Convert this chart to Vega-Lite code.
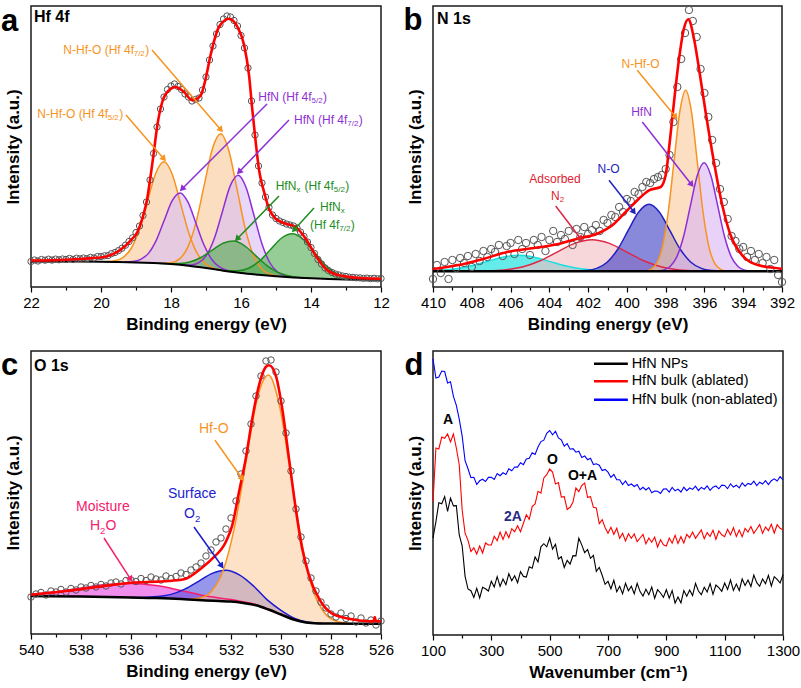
{
"$schema":"https://vega.github.io/schema/vega-lite/v6.json",
"background":"white",
"padding":{"left":0,"top":3,"right":4,"bottom":4},
"columns":2,
"spacing":{"row":64,"column":52},
"bounds":"flush",
"resolve":{"scale":{"color":"independent","fill":"independent","stroke":"independent"}},
"datasets":{
"a_comp":[
{"e":16.555,"lo":16.6,"i":16.8,"c":"O1"},{"e":16.79,"lo":17.8,"i":18.9,"c":"O1"},{"e":17.025,"lo":19.1,"i":23.6,"c":"O1"},{"e":17.26,"lo":20.25,"i":34.05,"c":"O1"},{"e":17.495,"lo":21.3,"i":54.4,"c":"O1"},{"e":17.73,"lo":22.05,"i":83.9,"c":"O1"},{"e":17.965,"lo":22.8,"i":112.8,"c":"O1"},{"e":18.2,"lo":23.3,"i":125.3,"c":"O1"},{"e":18.435,"lo":23.8,"i":113.8,"c":"O1"},{"e":18.67,"lo":24.2,"i":86.1,"c":"O1"},{"e":18.905,"lo":24.5,"i":57.6,"c":"O1"},{"e":19.14,"lo":24.7,"i":38.5,"c":"O1"},{"e":19.375,"lo":24.9,"i":29.4,"c":"O1"},{"e":19.61,"lo":25.05,"i":26.15,"c":"O1"},{"e":19.845,"lo":25.2,"i":25.4,"c":"O1"},
{"e":14.935,"lo":10.65,"i":10.95,"c":"O2"},{"e":15.17,"lo":11.3,"i":12.8,"c":"O2"},{"e":15.405,"lo":12.0,"i":18.0,"c":"O2"},{"e":15.64,"lo":12.75,"i":31.25,"c":"O2"},{"e":15.875,"lo":13.55,"i":57.85,"c":"O2"},{"e":16.11,"lo":14.5,"i":97.3,"c":"O2"},{"e":16.345,"lo":15.55,"i":136.05,"c":"O2"},{"e":16.58,"lo":16.7,"i":153.2,"c":"O2"},{"e":16.815,"lo":17.95,"i":138.45,"c":"O2"},{"e":17.05,"lo":19.25,"i":102.05,"c":"O2"},{"e":17.285,"lo":20.35,"i":64.65,"c":"O2"},{"e":17.52,"lo":21.35,"i":39.85,"c":"O2"},{"e":17.755,"lo":22.1,"i":28.1,"c":"O2"},{"e":17.99,"lo":22.85,"i":24.35,"c":"O2"},{"e":18.225,"lo":23.35,"i":23.65,"c":"O2"},
{"e":16.165,"lo":14.7,"i":14.9,"c":"P1"},{"e":16.39,"lo":15.75,"i":16.55,"c":"P1"},{"e":16.615,"lo":16.9,"i":20.1,"c":"P1"},{"e":16.84,"lo":18.1,"i":27.8,"c":"P1"},{"e":17.065,"lo":19.3,"i":42.7,"c":"P1"},{"e":17.29,"lo":20.4,"i":64.1,"c":"P1"},{"e":17.515,"lo":21.35,"i":84.85,"c":"P1"},{"e":17.74,"lo":22.1,"i":94.1,"c":"P1"},{"e":17.965,"lo":22.8,"i":86.3,"c":"P1"},{"e":18.19,"lo":23.3,"i":67.0,"c":"P1"},{"e":18.415,"lo":23.75,"i":47.15,"c":"P1"},{"e":18.64,"lo":24.15,"i":33.85,"c":"P1"},{"e":18.865,"lo":24.45,"i":27.65,"c":"P1"},{"e":19.09,"lo":24.7,"i":25.5,"c":"P1"},{"e":19.315,"lo":24.85,"i":25.05,"c":"P1"},
{"e":14.505,"lo":9.6,"i":9.8,"c":"P2"},{"e":14.73,"lo":10.15,"i":11.25,"c":"P2"},{"e":14.955,"lo":10.7,"i":15.0,"c":"P2"},{"e":15.18,"lo":11.3,"i":24.5,"c":"P2"},{"e":15.405,"lo":12.0,"i":43.6,"c":"P2"},{"e":15.63,"lo":12.7,"i":71.8,"c":"P2"},{"e":15.855,"lo":13.5,"i":99.5,"c":"P2"},{"e":16.08,"lo":14.35,"i":111.75,"c":"P2"},{"e":16.305,"lo":15.35,"i":101.35,"c":"P2"},{"e":16.53,"lo":16.45,"i":75.55,"c":"P2"},{"e":16.755,"lo":17.65,"i":49.25,"c":"P2"},{"e":16.98,"lo":18.9,"i":32.1,"c":"P2"},{"e":17.205,"lo":20.0,"i":24.3,"c":"P2"},{"e":17.43,"lo":21.0,"i":22.1,"c":"P2"},{"e":17.655,"lo":21.8,"i":22.0,"c":"P2"},
{"e":14.03,"lo":8.75,"i":8.85,"c":"G1"},{"e":14.34,"lo":9.3,"i":9.6,"c":"G1"},{"e":14.65,"lo":9.95,"i":11.35,"c":"G1"},{"e":14.96,"lo":10.7,"i":14.9,"c":"G1"},{"e":15.27,"lo":11.55,"i":21.65,"c":"G1"},{"e":15.58,"lo":12.55,"i":31.35,"c":"G1"},{"e":15.89,"lo":13.6,"i":41.0,"c":"G1"},{"e":16.2,"lo":14.9,"i":45.9,"c":"G1"},{"e":16.51,"lo":16.35,"i":43.75,"c":"G1"},{"e":16.82,"lo":18.0,"i":36.8,"c":"G1"},{"e":17.13,"lo":19.65,"i":29.75,"c":"G1"},{"e":17.44,"lo":21.05,"i":25.25,"c":"G1"},{"e":17.75,"lo":22.1,"i":23.5,"c":"G1"},{"e":18.06,"lo":23.05,"i":23.35,"c":"G1"},{"e":18.37,"lo":23.65,"i":23.75,"c":"G1"},
{"e":12.36,"lo":7.35,"i":7.45,"c":"G2"},{"e":12.67,"lo":7.45,"i":7.95,"c":"G2"},{"e":12.98,"lo":7.6,"i":9.5,"c":"G2"},{"e":13.29,"lo":7.8,"i":13.7,"c":"G2"},{"e":13.6,"lo":8.1,"i":22.3,"c":"G2"},{"e":13.91,"lo":8.55,"i":35.05,"c":"G2"},{"e":14.22,"lo":9.05,"i":47.65,"c":"G2"},{"e":14.53,"lo":9.65,"i":53.35,"c":"G2"},{"e":14.84,"lo":10.4,"i":49.0,"c":"G2"},{"e":15.15,"lo":11.2,"i":37.7,"c":"G2"},{"e":15.46,"lo":12.15,"i":26.35,"c":"G2"},{"e":15.77,"lo":13.15,"i":19.05,"c":"G2"},{"e":16.08,"lo":14.35,"i":16.25,"c":"G2"},{"e":16.39,"lo":15.75,"i":16.25,"c":"G2"},{"e":16.7,"lo":17.35,"i":17.45,"c":"G2"}
],
"a_bg":[{"e":22,"i":25.5},{"e":21,"i":25.5},{"e":20,"i":25.3},{"e":19.5,"i":25},{"e":19,"i":24.6},{"e":18.5,"i":23.9},{"e":18,"i":22.9},{"e":17.5,"i":21.3},{"e":17,"i":19},{"e":16.5,"i":16.3},{"e":16,"i":14},{"e":15.5,"i":12.3},{"e":15,"i":10.8},{"e":14.5,"i":9.6},{"e":14,"i":8.7},{"e":13.5,"i":8},{"e":13,"i":7.6},{"e":12.5,"i":7.4},{"e":12,"i":7.3}],
"a_env":[{"e":22,"i":26.5},{"e":21,"i":27.3},{"e":20.5,"i":28.3},{"e":19.91,"i":30},{"e":19.63,"i":33.3},{"e":19.34,"i":40},{"e":19.15,"i":46.7},{"e":18.96,"i":55},{"e":18.82,"i":68.3},{"e":18.68,"i":88.3},{"e":18.58,"i":111.7},{"e":18.49,"i":135},{"e":18.39,"i":161.7},{"e":18.25,"i":185},{"e":18.06,"i":196.7},{"e":17.87,"i":200},{"e":17.63,"i":195},{"e":17.39,"i":186.7},{"e":17.15,"i":191.7},{"e":17.01,"i":208.3},{"e":16.87,"i":231.7},{"e":16.63,"i":260},{"e":16.34,"i":268.3},{"e":16.1,"i":260},{"e":15.91,"i":241.7},{"e":15.77,"i":211.7},{"e":15.68,"i":178.3},{"e":15.58,"i":145},{"e":15.49,"i":118.3},{"e":15.34,"i":95},{"e":15.2,"i":78.3},{"e":15.01,"i":68.3},{"e":14.72,"i":63.3},{"e":14.44,"i":60},{"e":14.15,"i":48.3},{"e":13.87,"i":31.7},{"e":13.58,"i":18.3},{"e":13.2,"i":11.7},{"e":12.63,"i":9},{"e":12.06,"i":8.3},{"e":12,"i":8.3}],
"a_pts":[{"e":22.0,"i":25.5},{"e":21.9,"i":27},{"e":21.8,"i":26},{"e":21.7,"i":27.5},{"e":21.6,"i":26.8},{"e":21.5,"i":27.8},{"e":21.4,"i":26.9},{"e":21.3,"i":27.9},{"e":21.2,"i":27.2},{"e":21.1,"i":28},{"e":21.0,"i":27.5},{"e":20.9,"i":28.6},{"e":20.8,"i":27.6},{"e":20.7,"i":28.8},{"e":20.6,"i":28.2},{"e":20.5,"i":29},{"e":20.4,"i":28.3},{"e":20.3,"i":29.6},{"e":20.2,"i":29},{"e":20.1,"i":30.5},{"e":20.0,"i":30.4},{"e":19.9,"i":31.2},{"e":19.8,"i":31.4},{"e":19.7,"i":33.4},{"e":19.6,"i":34.5},{"e":19.5,"i":36.4},{"e":19.4,"i":38.8},{"e":19.3,"i":41.8},{"e":19.2,"i":45.5},{"e":19.1,"i":49.2},{"e":19.0,"i":54.5},{"e":18.9,"i":61},{"e":18.8,"i":71.5},{"e":18.7,"i":85},{"e":18.6,"i":107},{"e":18.5,"i":133.5},{"e":18.4,"i":160},{"e":18.3,"i":178},{"e":18.2,"i":190},{"e":18.1,"i":197.5},{"e":18.0,"i":201},{"e":17.9,"i":203},{"e":17.8,"i":200.5},{"e":17.7,"i":197.5},{"e":17.6,"i":193},{"e":17.5,"i":190},{"e":17.4,"i":186},{"e":17.3,"i":187.5},{"e":17.2,"i":189},{"e":17.1,"i":197},{"e":17.0,"i":210},{"e":16.9,"i":227},{"e":16.8,"i":241},{"e":16.7,"i":253},{"e":16.6,"i":262.5},{"e":16.5,"i":268},{"e":16.4,"i":271},{"e":16.3,"i":270},{"e":16.2,"i":266.5},{"e":16.1,"i":261},{"e":16.0,"i":251.5},{"e":15.9,"i":239},{"e":15.8,"i":219},{"e":15.7,"i":186},{"e":15.6,"i":152},{"e":15.5,"i":121},{"e":15.4,"i":104},{"e":15.3,"i":90},{"e":15.2,"i":79.5},{"e":15.1,"i":72},{"e":15.0,"i":68.5},{"e":14.9,"i":66},{"e":14.8,"i":64.5},{"e":14.7,"i":63},{"e":14.6,"i":62},{"e":14.5,"i":61},{"e":14.4,"i":59},{"e":14.3,"i":55},{"e":14.2,"i":50.5},{"e":14.1,"i":45},{"e":14.0,"i":39.5},{"e":13.9,"i":33.5},{"e":13.8,"i":27.5},{"e":13.7,"i":23},{"e":13.6,"i":19},{"e":13.5,"i":16.5},{"e":13.4,"i":14.5},{"e":13.3,"i":13},{"e":13.2,"i":12},{"e":13.1,"i":11},{"e":13.0,"i":10.5},{"e":12.9,"i":9.8},{"e":12.8,"i":9.6},{"e":12.7,"i":9.2},{"e":12.6,"i":9.1},{"e":12.5,"i":8.6},{"e":12.4,"i":8.9},{"e":12.3,"i":8.3},{"e":12.2,"i":8.7},{"e":12.1,"i":8.2},{"e":12.0,"i":8.5}],
"a_arr":[{"e":16.571,"i":157,"e2":18.543,"i2":237,"c":"O2","ang":139},{"e":18.2,"i":128,"e2":19.286,"i2":172,"c":"O1","ang":139},{"e":17.686,"i":98,"e2":15.257,"i2":183,"c":"P1","ang":225},{"e":16.057,"i":115,"e2":14.629,"i2":167,"c":"P2","ang":224},{"e":16.114,"i":48,"e2":14.914,"i2":91,"c":"G1","ang":224},{"e":14.486,"i":57,"e2":13.914,"i2":79,"c":"G2","ang":222}],
"a_txt":[{"e":21.077,"i":236.7,"t":"N-Hf-O (Hf 4f","c":"O2"},{"e":18.737,"i":236.7,"t":")","c":"O2"},{"e":21.82,"i":173.3,"t":"N-Hf-O (Hf 4f","c":"O1"},{"e":19.48,"i":173.3,"t":")","c":"O1"},{"e":15.506,"i":190,"t":"HfN (Hf 4f","c":"P1"},{"e":13.654,"i":190,"t":")","c":"P1"},{"e":14.486,"i":166.7,"t":"HfN (Hf 4f","c":"P2"},{"e":12.634,"i":166.7,"t":")","c":"P2"},{"e":15.009,"i":100.7,"t":"HfN","c":"G1"},{"e":14.186,"i":100.7,"t":"(Hf 4f","c":"G1"},{"e":13.02,"i":100.7,"t":")","c":"G1"},{"e":13.743,"i":80,"t":"HfN","c":"G2"},{"e":14.029,"i":61.7,"t":"(Hf 4f","c":"G2"},{"e":12.863,"i":61.7,"t":")","c":"G2"}],
"a_sub":[{"e":19.066,"i":236.7,"t":"7/2","c":"O2"},{"e":19.809,"i":173.3,"t":"5/2","c":"O1"},{"e":13.983,"i":190,"t":"5/2","c":"P1"},{"e":12.963,"i":166.7,"t":"7/2","c":"P2"},{"e":14.417,"i":100.7,"t":"x","c":"G1"},{"e":13.349,"i":100.7,"t":"5/2","c":"G1"},{"e":13.151,"i":80,"t":"x","c":"G2"},{"e":13.191,"i":61.7,"t":"7/2","c":"G2"}],
"b_comp":[
{"e":399.825,"i":15.74,"c":"cy"},{"e":400.65,"i":15.9,"c":"cy"},{"e":401.475,"i":16.4,"c":"cy"},{"e":402.3,"i":17.9,"c":"cy"},{"e":403.125,"i":20.9,"c":"cy"},{"e":403.95,"i":25.4,"c":"cy"},{"e":404.775,"i":29.8,"c":"cy"},{"e":405.6,"i":31.7,"c":"cy"},{"e":406.425,"i":29.8,"c":"cy"},{"e":407.25,"i":25.4,"c":"cy"},{"e":408.075,"i":20.9,"c":"cy"},{"e":408.9,"i":17.9,"c":"cy"},{"e":409.725,"i":16.4,"c":"cy"},{"e":410,"i":16.15,"c":"cy"},
{"e":395.5,"i":15.77,"c":"pk"},{"e":396.4,"i":16.05,"c":"pk"},{"e":397.3,"i":17.1,"c":"pk"},{"e":398.2,"i":20.0,"c":"pk"},{"e":399.1,"i":26.0,"c":"pk"},{"e":400.0,"i":34.9,"c":"pk"},{"e":400.9,"i":43.6,"c":"pk"},{"e":401.8,"i":47.3,"c":"pk"},{"e":402.7,"i":43.6,"c":"pk"},{"e":403.6,"i":34.9,"c":"pk"},{"e":404.5,"i":26.0,"c":"pk"},{"e":405.4,"i":20.0,"c":"pk"},{"e":406.3,"i":17.1,"c":"pk"},{"e":407.2,"i":16.05,"c":"pk"},{"e":408.1,"i":15.77,"c":"pk"},
{"e":395.08,"i":15.85,"c":"no"},{"e":395.62,"i":16.44,"c":"no"},{"e":396.16,"i":18.6,"c":"no"},{"e":396.7,"i":24.8,"c":"no"},{"e":397.24,"i":37.5,"c":"no"},{"e":397.78,"i":56.3,"c":"no"},{"e":398.32,"i":74.8,"c":"no"},{"e":398.86,"i":82.7,"c":"no"},{"e":399.4,"i":74.8,"c":"no"},{"e":399.94,"i":56.3,"c":"no"},{"e":400.48,"i":37.5,"c":"no"},{"e":401.02,"i":24.8,"c":"no"},{"e":401.56,"i":18.6,"c":"no"},{"e":402.1,"i":16.44,"c":"no"},{"e":402.64,"i":15.85,"c":"no"},
{"e":394.87,"i":16.1,"c":"or"},{"e":395.17,"i":17.7,"c":"or"},{"e":395.47,"i":23.6,"c":"or"},{"e":395.77,"i":40.2,"c":"or"},{"e":396.07,"i":74.5,"c":"or"},{"e":396.37,"i":125.5,"c":"or"},{"e":396.67,"i":175.4,"c":"or"},{"e":396.97,"i":196.7,"c":"or"},{"e":397.27,"i":175.4,"c":"or"},{"e":397.57,"i":125.5,"c":"or"},{"e":397.87,"i":74.5,"c":"or"},{"e":398.17,"i":40.2,"c":"or"},{"e":398.47,"i":23.6,"c":"or"},{"e":398.77,"i":17.7,"c":"or"},{"e":399.07,"i":16.1,"c":"or"},
{"e":393.57,"i":15.94,"c":"pu"},{"e":393.92,"i":16.9,"c":"pu"},{"e":394.27,"i":20.5,"c":"pu"},{"e":394.62,"i":30.4,"c":"pu"},{"e":394.97,"i":51.0,"c":"pu"},{"e":395.32,"i":81.6,"c":"pu"},{"e":395.67,"i":111.5,"c":"pu"},{"e":396.02,"i":124.3,"c":"pu"},{"e":396.37,"i":111.5,"c":"pu"},{"e":396.72,"i":81.6,"c":"pu"},{"e":397.07,"i":51.0,"c":"pu"},{"e":397.42,"i":30.4,"c":"pu"},{"e":397.77,"i":20.5,"c":"pu"},{"e":398.12,"i":16.9,"c":"pu"},{"e":398.47,"i":15.94,"c":"pu"}
],
"b_bg":[{"e":410,"i":15.7},{"e":392,"i":15.7}],
"b_env":[{"e":410,"i":18},{"e":408.75,"i":21.7},{"e":407.37,"i":28.3},{"e":406.17,"i":35},{"e":404.79,"i":39},{"e":403.59,"i":42.7},{"e":402.56,"i":48.3},{"e":401.53,"i":53.3},{"e":400.75,"i":61.7},{"e":400.06,"i":75},{"e":399.38,"i":88.3},{"e":398.86,"i":96.7},{"e":398.26,"i":100},{"e":398.0,"i":111.7},{"e":397.79,"i":145},{"e":397.57,"i":185},{"e":397.31,"i":228.3},{"e":397.06,"i":258.3},{"e":396.83,"i":267.7},{"e":396.54,"i":248.3},{"e":396.28,"i":218.3},{"e":395.94,"i":175},{"e":395.51,"i":125},{"e":395.08,"i":81.7},{"e":394.65,"i":51.7},{"e":394.05,"i":31.7},{"e":393.19,"i":21.7},{"e":392.07,"i":18.3},{"e":392,"i":18}],
"b_pts":[{"e":410.0,"i":8},{"e":409.8,"i":22},{"e":409.6,"i":14},{"e":409.4,"i":25},{"e":409.2,"i":8},{"e":409.0,"i":27},{"e":408.8,"i":19},{"e":408.6,"i":29},{"e":408.4,"i":24},{"e":408.2,"i":31},{"e":408.0,"i":20},{"e":407.8,"i":33},{"e":407.6,"i":26},{"e":407.4,"i":36},{"e":407.2,"i":30},{"e":407.0,"i":38},{"e":406.8,"i":35},{"e":406.6,"i":42},{"e":406.4,"i":31},{"e":406.2,"i":41},{"e":406.0,"i":44},{"e":405.8,"i":33},{"e":405.6,"i":47},{"e":405.4,"i":38},{"e":405.2,"i":44},{"e":405.0,"i":32},{"e":404.8,"i":47},{"e":404.6,"i":42},{"e":404.4,"i":50},{"e":404.2,"i":36},{"e":404.0,"i":47},{"e":403.8,"i":56},{"e":403.6,"i":45},{"e":403.4,"i":52},{"e":403.2,"i":48},{"e":403.0,"i":56},{"e":402.8,"i":42},{"e":402.6,"i":58},{"e":402.4,"i":50},{"e":402.2,"i":60},{"e":402.0,"i":53},{"e":401.8,"i":57},{"e":401.6,"i":62},{"e":401.4,"i":56},{"e":401.2,"i":67},{"e":401.0,"i":64},{"e":400.8,"i":72},{"e":400.6,"i":70},{"e":400.4,"i":80},{"e":400.2,"i":75},{"e":400.0,"i":88},{"e":399.8,"i":86},{"e":399.6,"i":95},{"e":399.4,"i":93},{"e":399.2,"i":100},{"e":399.0,"i":105},{"e":398.8,"i":104},{"e":398.6,"i":108},{"e":398.4,"i":110},{"e":398.2,"i":112},{"e":398.0,"i":118},{"e":397.8,"i":132},{"e":397.6,"i":165},{"e":397.4,"i":200},{"e":397.2,"i":228},{"e":397.0,"i":254},{"e":396.8,"i":277},{"e":396.6,"i":266},{"e":396.4,"i":250},{"e":396.2,"i":218},{"e":396.0,"i":194},{"e":395.8,"i":170},{"e":395.6,"i":147},{"e":395.4,"i":124},{"e":395.2,"i":98},{"e":395.0,"i":85},{"e":394.8,"i":68},{"e":394.6,"i":51},{"e":394.4,"i":46},{"e":394.2,"i":38},{"e":394.0,"i":40},{"e":393.8,"i":30},{"e":393.6,"i":36},{"e":393.4,"i":27},{"e":393.2,"i":33},{"e":393.0,"i":24},{"e":392.8,"i":30},{"e":392.6,"i":18},{"e":392.4,"i":27},{"e":392.2,"i":12},{"e":392.0,"i":5}],
"b_arr":[{"e":397.483,"i":170,"e2":399.464,"i2":216.7,"c":"or","ang":141},{"e":396.658,"i":102.3,"e2":399.206,"i2":165,"c":"pu","ang":142},{"e":399.634,"i":75,"e2":400.923,"i2":106.7,"c":"no","ang":142},{"e":402.383,"i":48.3,"e2":403.672,"i2":81,"c":"pk","ang":143}],
"b_txt":[{"e":400.278,"i":223,"t":"N-Hf-O","c":"or"},{"e":399.778,"i":175,"t":"HfN","c":"pu"},{"e":401.516,"i":118,"t":"N-O","c":"no"},{"e":405.034,"i":108,"t":"Adsorbed","c":"pk"},{"e":403.914,"i":91,"t":"N","c":"pk"}],
"b_sub":[{"e":403.466,"i":91,"t":"2","c":"pk"}],
"c_comp":[
{"e":529,"lo":11.5,"i":11.53,"c":"h2o"},{"e":530,"lo":19.5,"i":19.66,"c":"h2o"},{"e":531,"lo":28.7,"i":29.3,"c":"h2o"},{"e":532,"lo":32.5,"i":34.4,"c":"h2o"},{"e":533,"lo":33.5,"i":38.0,"c":"h2o"},{"e":534,"lo":35,"i":43.5,"c":"h2o"},{"e":535,"lo":36,"i":48.4,"c":"h2o"},{"e":536,"lo":36.5,"i":50.5,"c":"h2o"},{"e":537,"lo":37,"i":49.4,"c":"h2o"},{"e":538,"lo":37.5,"i":46.0,"c":"h2o"},{"e":539,"lo":37.75,"i":42.25,"c":"h2o"},{"e":540,"lo":38,"i":39.9,"c":"h2o"},
{"e":528.35,"lo":10.55,"i":10.62,"c":"so2"},{"e":528.9,"lo":11.3,"i":11.64,"c":"so2"},{"e":529.45,"lo":14.2,"i":15.6,"c":"so2"},{"e":530.0,"lo":19.5,"i":23.7,"c":"so2"},{"e":530.55,"lo":24.0,"i":34.1,"c":"so2"},{"e":531.1,"lo":29.2,"i":48.0,"c":"so2"},{"e":531.65,"lo":31.5,"i":58.9,"c":"so2"},{"e":532.2,"lo":32.7,"i":63.7,"c":"so2"},{"e":532.75,"lo":33.25,"i":60.65,"c":"so2"},{"e":533.3,"lo":33.9,"i":52.7,"c":"so2"},{"e":533.85,"lo":34.8,"i":44.9,"c":"so2"},{"e":534.4,"lo":35.4,"i":39.6,"c":"so2"},{"e":534.95,"lo":36.0,"i":37.4,"c":"so2"},{"e":535.5,"lo":36.25,"i":36.6,"c":"so2"},{"e":536.05,"lo":36.5,"i":36.6,"c":"so2"},
{"e":527.35,"lo":10.35,"i":10.85,"c":"hfo"},{"e":527.8,"lo":10.4,"i":13.0,"c":"hfo"},{"e":528.25,"lo":10.5,"i":20.8,"c":"hfo"},{"e":528.7,"lo":10.8,"i":42.5,"c":"hfo"},{"e":529.15,"lo":12.4,"i":88.5,"c":"hfo"},{"e":529.6,"lo":15.5,"i":157.7,"c":"hfo"},{"e":530.05,"lo":20,"i":226.9,"c":"hfo"},{"e":530.5,"lo":24.5,"i":258.9,"c":"hfo"},{"e":530.95,"lo":28.45,"i":235.35,"c":"hfo"},{"e":531.4,"lo":30.4,"i":172.6,"c":"hfo"},{"e":531.85,"lo":32.0,"i":108.1,"c":"hfo"},{"e":532.3,"lo":32.8,"i":64.5,"c":"hfo"},{"e":532.75,"lo":33.25,"i":43.55,"c":"hfo"},{"e":533.2,"lo":33.7,"i":36.3,"c":"hfo"},{"e":533.65,"lo":34.5,"i":35.0,"c":"hfo"}
],
"c_bg":[{"e":540,"i":38},{"e":538,"i":37.5},{"e":536,"i":36.5},{"e":535,"i":36},{"e":534,"i":35},{"e":533.5,"i":34.2},{"e":533,"i":33.5},{"e":532.5,"i":33},{"e":532,"i":32.5},{"e":531.5,"i":31},{"e":531,"i":28.7},{"e":530.5,"i":24.5},{"e":530,"i":19.5},{"e":529.5,"i":14.5},{"e":529,"i":11.5},{"e":528.5,"i":10.6},{"e":528,"i":10.4},{"e":526,"i":10.3}],
"c_env":[{"e":540,"i":39.3},{"e":538.68,"i":42.7},{"e":537.35,"i":47},{"e":536.01,"i":51.3},{"e":534.68,"i":52.7},{"e":533.88,"i":54.7},{"e":533.21,"i":65.3},{"e":532.75,"i":75.3},{"e":532.21,"i":92},{"e":531.95,"i":108.7},{"e":531.68,"i":142},{"e":531.41,"i":175.3},{"e":531.15,"i":215.3},{"e":530.88,"i":248.7},{"e":530.61,"i":267},{"e":530.48,"i":268.7},{"e":530.21,"i":258.7},{"e":529.95,"i":225.3},{"e":529.68,"i":175.3},{"e":529.41,"i":125.3},{"e":529.15,"i":85.3},{"e":528.88,"i":58.7},{"e":528.48,"i":35.3},{"e":527.95,"i":20.3},{"e":527.28,"i":15.3},{"e":526.48,"i":12.7},{"e":526.3,"i":12.6},{"e":526.25,"i":17},{"e":526.2,"i":12.7},{"e":526,"i":12.7}],
"c_pts":[{"e":540.0,"i":37},{"e":539.8,"i":40},{"e":539.6,"i":41.5},{"e":539.4,"i":39},{"e":539.2,"i":43},{"e":539.0,"i":42},{"e":538.8,"i":44.5},{"e":538.6,"i":42},{"e":538.4,"i":45.5},{"e":538.2,"i":44},{"e":538.0,"i":47},{"e":537.8,"i":46},{"e":537.6,"i":48.5},{"e":537.4,"i":47},{"e":537.2,"i":49.5},{"e":537.0,"i":48},{"e":536.8,"i":51},{"e":536.6,"i":52},{"e":536.4,"i":50},{"e":536.2,"i":53.5},{"e":536.0,"i":54},{"e":535.8,"i":52.5},{"e":535.6,"i":55.5},{"e":535.4,"i":53.5},{"e":535.2,"i":57},{"e":535.0,"i":55},{"e":534.8,"i":54},{"e":534.6,"i":58},{"e":534.4,"i":55.5},{"e":534.2,"i":57.5},{"e":534.0,"i":61},{"e":533.8,"i":59.5},{"e":533.6,"i":64},{"e":533.4,"i":67},{"e":533.2,"i":71},{"e":533.0,"i":78},{"e":532.8,"i":84},{"e":532.6,"i":92},{"e":532.4,"i":96},{"e":532.2,"i":105},{"e":532.0,"i":116},{"e":531.8,"i":133},{"e":531.6,"i":160},{"e":531.4,"i":183},{"e":531.2,"i":210},{"e":531.0,"i":238},{"e":530.8,"i":258},{"e":530.6,"i":273},{"e":530.4,"i":274},{"e":530.2,"i":262},{"e":530.0,"i":233},{"e":529.8,"i":201},{"e":529.6,"i":163},{"e":529.4,"i":125},{"e":529.2,"i":97},{"e":529.0,"i":73},{"e":528.8,"i":56},{"e":528.6,"i":43},{"e":528.4,"i":32},{"e":528.2,"i":26},{"e":528.0,"i":20},{"e":527.8,"i":17},{"e":527.6,"i":21},{"e":527.4,"i":15.5},{"e":527.2,"i":18},{"e":527.0,"i":12},{"e":526.8,"i":16},{"e":526.6,"i":11},{"e":526.4,"i":14},{"e":526.2,"i":9},{"e":526.0,"i":13}],
"c_arr":[{"e":531.55,"i":155.3,"e2":532.64,"i2":193.7,"c":"hfo","ang":145},{"e":532.37,"i":68,"e2":533.48,"i2":107,"c":"so2","ang":145},{"e":536.01,"i":54.7,"e2":537.08,"i2":96,"c":"h2o","ang":147}],
"c_txt":[{"e":533.28,"i":205,"t":"Hf-O","c":"hfo"},{"e":534.52,"i":140,"t":"Surface","c":"so2"},{"e":533.88,"i":120,"t":"O","c":"so2"},{"e":538.2,"i":127,"t":"Moisture","c":"h2o"},{"e":537.64,"i":108,"t":"H","c":"h2o"},{"e":537.024,"i":108,"t":"O","c":"h2o"}],
"c_sub":[{"e":533.444,"i":120,"t":"2","c":"so2"},{"e":537.236,"i":108,"t":"2","c":"h2o"}],
"d_spec":[
{"w":100,"n":97,"r":133.3,"b":276.2},{"w":110,"n":113.3,"r":187,"b":257},{"w":120,"n":132.3,"r":186,"b":258},{"w":130,"n":131.3,"r":198,"b":264},{"w":140,"n":138.4,"r":196.8,"b":263.5},{"w":150,"n":123.7,"r":201,"b":252.1},{"w":160,"n":136.9,"r":193,"b":253.3},{"w":170,"n":129.1,"r":201,"b":238.7},{"w":180,"n":129.3,"r":187,"b":229.6},{"w":190,"n":100,"r":170.3,"b":215.8},
{"w":200,"n":89.2,"r":125,"b":198.8},{"w":210,"n":58.7,"r":101.8,"b":174.3},{"w":220,"n":46,"r":94.7,"b":166.2},{"w":230,"n":44.3,"r":83.5,"b":157.4},{"w":240,"n":37.5,"r":87.2,"b":157.7},{"w":250,"n":46.7,"r":81,"b":150.5},{"w":260,"n":37,"r":89,"b":154.2},{"w":270,"n":47.7,"r":82,"b":155.8},{"w":280,"n":46.3,"r":92,"b":153.5},{"w":290,"n":44,"r":90,"b":157.6},
{"w":300,"n":53.7,"r":90,"b":157.8},{"w":310,"n":48,"r":98.7,"b":155.6},{"w":320,"n":58.4,"r":94.3,"b":161.5},{"w":330,"n":48.7,"r":103,"b":159.3},{"w":340,"n":56,"r":95.6,"b":162.2},{"w":350,"n":50.3,"r":103.3,"b":160.5},{"w":360,"n":61.3,"r":97.3,"b":166.3},{"w":370,"n":54.3,"r":106.3,"b":164.2},{"w":380,"n":59.3,"r":103.3,"b":168},{"w":390,"n":52.3,"r":109.3,"b":167.9},
{"w":400,"n":63.3,"r":103.3,"b":172.2},{"w":410,"n":58.6,"r":111.8,"b":170.4},{"w":420,"n":58,"r":120.2,"b":176},{"w":430,"n":68.3,"r":115.7,"b":176.7},{"w":440,"n":66.7,"r":128.4,"b":182.3},{"w":450,"n":78,"r":131,"b":180.5},{"w":460,"n":73.1,"r":143.7,"b":187.9},{"w":470,"n":88.2,"r":141.9,"b":193.4},{"w":480,"n":91.3,"r":157.1,"b":194.8},{"w":490,"n":88.2,"r":160.3,"b":201.7},
{"w":500,"n":97,"r":166,"b":204.5},{"w":510,"n":85.9,"r":162.9,"b":200.2},{"w":520,"n":90.7,"r":151,"b":203.8},{"w":530,"n":76,"r":152.4,"b":197},{"w":540,"n":78.2,"r":137.9,"b":195.1},{"w":550,"n":67.5,"r":138.3,"b":188.8},{"w":560,"n":74.7,"r":125.5,"b":191.3},{"w":570,"n":71,"r":127.7,"b":185.8},{"w":580,"n":79.3,"r":132.9,"b":186.3},{"w":590,"n":79.1,"r":147,"b":182.8},
{"w":600,"n":96.9,"r":143.3,"b":183.8},{"w":610,"n":90.1,"r":149.4,"b":177.6},{"w":620,"n":82.3,"r":152,"b":179},{"w":630,"n":85.5,"r":137.7,"b":175.3},{"w":640,"n":76.7,"r":138.3,"b":176.7},{"w":650,"n":79.7,"r":127.6,"b":170.5},{"w":660,"n":63.7,"r":127,"b":171.2},{"w":670,"n":67.7,"r":111.3,"b":169.8},{"w":680,"n":59.7,"r":115.4,"b":164.5},{"w":690,"n":50.7,"r":107.5,"b":165.6},
{"w":700,"n":53.7,"r":101.7,"b":162.8},{"w":710,"n":46.2,"r":107.7,"b":157.6},{"w":720,"n":54.7,"r":100.7,"b":160.5},{"w":730,"n":43.2,"r":106.7,"b":155.3},{"w":740,"n":48.7,"r":96.7,"b":155.2},{"w":750,"n":41.2,"r":101.7,"b":150.5},{"w":760,"n":51.7,"r":94,"b":154},{"w":770,"n":44.2,"r":101.3,"b":149.5},{"w":780,"n":48.7,"r":96.7,"b":151},{"w":790,"n":41.2,"r":101,"b":148.5},
{"w":800,"n":51.7,"r":93.3,"b":150.5},{"w":810,"n":43.4,"r":97,"b":145.3},{"w":820,"n":39,"r":100.7,"b":147.7},{"w":830,"n":45.7,"r":91.3,"b":145},{"w":840,"n":40.3,"r":97,"b":147.4},{"w":850,"n":48,"r":92.7,"b":142.2},{"w":860,"n":36.7,"r":97.9,"b":144},{"w":870,"n":45.3,"r":88,"b":143.8},{"w":880,"n":42,"r":95.2,"b":141.6},{"w":890,"n":37.6,"r":90.3,"b":145.9},
{"w":900,"n":45.3,"r":89.1,"b":146.2},{"w":910,"n":36.9,"r":97,"b":142.9},{"w":920,"n":44.4,"r":91.8,"b":147.5},{"w":930,"n":32,"r":99.6,"b":144.2},{"w":940,"n":38,"r":91.5,"b":145.9},{"w":950,"n":32.2,"r":98.3,"b":143},{"w":960,"n":44.5,"r":92,"b":147.7},{"w":970,"n":38.8,"r":100.7,"b":144.3},{"w":980,"n":45.1,"r":97.3,"b":147},{"w":990,"n":39.4,"r":103,"b":145.6},
{"w":1000,"n":51.7,"r":96.7,"b":148.8},{"w":1010,"n":44,"r":100.9,"b":144.5},{"w":1020,"n":40.4,"r":105,"b":147.6},{"w":1030,"n":47.7,"r":96.2,"b":145.8},{"w":1040,"n":43,"r":102.4,"b":149},{"w":1050,"n":51.4,"r":98.5,"b":144.7},{"w":1060,"n":40.7,"r":104.7,"b":147.8},{"w":1070,"n":50,"r":95.8,"b":149},{"w":1080,"n":47.3,"r":104,"b":146.2},{"w":1090,"n":43.7,"r":100.2,"b":149.8},
{"w":1100,"n":52,"r":98.3,"b":149.5},{"w":1110,"n":45.5,"r":105.6,"b":146.3},{"w":1120,"n":55,"r":100,"b":151.2},{"w":1130,"n":44.5,"r":107.3,"b":148},{"w":1140,"n":51,"r":98.6,"b":149.8},{"w":1150,"n":44.5,"r":105,"b":147.1},{"w":1160,"n":56,"r":98.3,"b":152},{"w":1170,"n":49.5,"r":106.7,"b":148.8},{"w":1180,"n":55,"r":103,"b":151.6},{"w":1190,"n":48.5,"r":108.4,"b":150.5},
{"w":1200,"n":60,"r":101.7,"b":153.8},{"w":1210,"n":52.3,"r":106,"b":149.5},{"w":1220,"n":48.7,"r":110.4,"b":152.8},{"w":1230,"n":56,"r":101.7,"b":151},{"w":1240,"n":51.3,"r":108,"b":154.3},{"w":1250,"n":59.7,"r":104.3,"b":150.5},{"w":1260,"n":49,"r":110.7,"b":154.3},{"w":1270,"n":58.3,"r":102,"b":156.1},{"w":1280,"n":55.6,"r":110.3,"b":154},{"w":1290,"n":52,"r":106.7,"b":158.3},{"w":1300,"n":60.3,"r":105,"b":155.2}
],
"d_leg":[{"s":"n","w":652,"w2":768,"i":271.3},{"s":"r","w":652,"w2":768,"i":253.7},{"s":"b","w":652,"w2":768,"i":235.3}],
"d_legt":[{"w":781,"i":271.3,"t":"HfN NPs"},{"w":781,"i":253.7,"t":"HfN bulk (ablated)"},{"w":781,"i":235.3,"t":"HfN bulk (non-ablated)"}],
"d_lab":[{"w":151.4,"i":215,"t":"A","c":"k"},{"w":509.7,"i":175,"t":"O","c":"k"},{"w":612.6,"i":159,"t":"O+A","c":"k"},{"w":374.3,"i":118,"t":"2A","c":"nv"}]
},
"concat":[
{
"width":350,"height":281,
"encoding":{
"x":{"field":"e","type":"quantitative","scale":{"domain":[12,22],"reverse":true,"nice":false,"zero":false},
"axis":{"title":"Binding energy (eV)","values":[12,13,14,15,16,17,18,19,20,21,22],"format":"d","labelExpr":"datum.value % 2 === 0 ? datum.label : ''","tickSize":{"condition":{"test":"datum.value % 2 === 0","value":5},"value":3}}},
"y":{"field":"i","type":"quantitative","stack":null,"scale":{"domain":[0,281],"nice":false,"zero":false},"axis":{"title":"Intensity (a.u.)"}}
},
"layer":[
{"data":{"name":"a_comp"},"mark":{"type":"area","interpolate":"monotone","fillOpacity":0.6},
"encoding":{"y2":{"field":"lo"},
"fill":{"field":"c","type":"nominal","scale":{"domain":["O1","O2","P1","P2","G1","G2"],"range":["#f9c896","#f9c896","#d9bdf4","#d9bdf4","#50ac50","#50ac50"]},"legend":null}}},
{"data":{"name":"a_comp"},"mark":{"type":"line","interpolate":"monotone","strokeWidth":1.5},
"encoding":{"stroke":{"field":"c","type":"nominal","scale":{"domain":["O1","O2","P1","P2","G1","G2"],"range":["#f7931e","#f7931e","#8e2fd6","#8e2fd6","#1e8c1e","#1e8c1e"]},"legend":null}}},
{"data":{"name":"a_bg"},"mark":{"type":"line","interpolate":"monotone","color":"black","strokeWidth":2}},
{"data":{"name":"a_pts"},"mark":{"type":"point","shape":"circle","filled":false,"color":"#555555","size":40,"strokeWidth":1,"opacity":1}},
{"data":{"name":"a_env"},"mark":{"type":"line","interpolate":"monotone","color":"#ff0000","strokeWidth":2.6}},
{"data":{"name":"a_arr"},"mark":{"type":"rule","strokeWidth":1.5},
"encoding":{"x2":{"field":"e2"},"y2":{"field":"i2"},"stroke":{"field":"c","type":"nominal","legend":null}}},
{"data":{"name":"a_arr"},"mark":{"type":"point","shape":"triangle-up","filled":true,"size":50,"opacity":1},
"encoding":{"angle":{"field":"ang","type":"quantitative","scale":null},
"color":{"field":"c","type":"nominal","scale":{"domain":["O1","O2","P1","P2","G1","G2"],"range":["#f7931e","#f7931e","#8e2fd6","#8e2fd6","#1e8c1e","#1e8c1e"]},"legend":null}}},
{"data":{"name":"a_txt"},"mark":{"type":"text","align":"left","baseline":"middle","fontSize":12},
"encoding":{"text":{"field":"t"},"color":{"field":"c","type":"nominal","legend":null}}},
{"data":{"name":"a_sub"},"mark":{"type":"text","align":"left","baseline":"middle","fontSize":8,"dy":4},
"encoding":{"text":{"field":"t"},"color":{"field":"c","type":"nominal","legend":null}}},
{"data":{"values":[{"e":21.914,"i":270,"t":"Hf 4f"}]},"mark":{"type":"text","align":"left","baseline":"middle","fontSize":16,"fontWeight":"bold","color":"black"},
"encoding":{"text":{"field":"t"}}},
{"data":{"values":[{"e":22.614,"i":256,"t":"a"}]},"mark":{"type":"text","align":"center","baseline":"alphabetic","fontSize":31,"fontWeight":"bold","color":"black"},
"encoding":{"text":{"field":"t"}}}
]},
{
"width":349,"height":281,
"encoding":{
"x":{"field":"e","type":"quantitative","scale":{"domain":[392,410],"reverse":true,"nice":false,"zero":false},
"axis":{"title":"Binding energy (eV)","values":[392,393,394,395,396,397,398,399,400,401,402,403,404,405,406,407,408,409,410],"format":"d","labelExpr":"datum.value % 2 === 0 ? datum.label : ''","tickSize":{"condition":{"test":"datum.value % 2 === 0","value":5},"value":3}}},
"y":{"field":"i","type":"quantitative","stack":null,"scale":{"domain":[0,281],"nice":false,"zero":false},"axis":{"title":"Intensity (a.u.)"}}
},
"layer":[
{"data":{"name":"b_comp"},"mark":{"type":"area","interpolate":"monotone","fillOpacity":0.6},
"encoding":{"y2":{"datum":15.7},
"fill":{"field":"c","type":"nominal","scale":{"domain":["cy","pk","no","or","pu"],"range":["#00dede","#f3bcc1","#3a3ac4","#fac89b","#d9b4f3"]},"legend":null}}},
{"data":{"name":"b_comp"},"mark":{"type":"line","interpolate":"monotone","strokeWidth":1.5},
"encoding":{"stroke":{"field":"c","type":"nominal","scale":{"domain":["cy","pk","no","or","pu"],"range":["#19e0e0","#dc2846","#2222c0","#f7931e","#8e2fd6"]},"legend":null}}},
{"data":{"name":"b_bg"},"mark":{"type":"line","color":"black","strokeWidth":2.5}},
{"data":{"name":"b_pts"},"mark":{"type":"point","shape":"circle","filled":false,"color":"#555555","size":55,"strokeWidth":1,"opacity":1}},
{"data":{"name":"b_env"},"mark":{"type":"line","interpolate":"monotone","color":"#ff0000","strokeWidth":2.6}},
{"data":{"name":"b_arr"},"mark":{"type":"rule","strokeWidth":1.5},
"encoding":{"x2":{"field":"e2"},"y2":{"field":"i2"},"stroke":{"field":"c","type":"nominal","legend":null}}},
{"data":{"name":"b_arr"},"mark":{"type":"point","shape":"triangle-up","filled":true,"size":50,"opacity":1},
"encoding":{"angle":{"field":"ang","type":"quantitative","scale":null},
"color":{"field":"c","type":"nominal","scale":{"domain":["cy","pk","no","or","pu"],"range":["#19e0e0","#e0202e","#2222c0","#f7931e","#8e2fd6"]},"legend":null}}},
{"data":{"name":"b_txt"},"mark":{"type":"text","align":"left","baseline":"middle","fontSize":12},
"encoding":{"text":{"field":"t"},"color":{"field":"c","type":"nominal","legend":null}}},
{"data":{"name":"b_sub"},"mark":{"type":"text","align":"left","baseline":"middle","fontSize":8,"dy":4},
"encoding":{"text":{"field":"t"},"color":{"field":"c","type":"nominal","legend":null}}},
{"data":{"values":[{"e":409.794,"i":268,"t":"N 1s"}]},"mark":{"type":"text","align":"left","baseline":"middle","fontSize":16,"fontWeight":"bold","color":"black"},
"encoding":{"text":{"field":"t"}}},
{"data":{"values":[{"e":411.031,"i":257,"t":"b"}]},"mark":{"type":"text","align":"center","baseline":"alphabetic","fontSize":31,"fontWeight":"bold","color":"black"},
"encoding":{"text":{"field":"t"}}}
]},
{
"width":350,"height":283,
"encoding":{
"x":{"field":"e","type":"quantitative","scale":{"domain":[526,540],"reverse":true,"nice":false,"zero":false},
"axis":{"title":"Binding energy (eV)","values":[526,527,528,529,530,531,532,533,534,535,536,537,538,539,540],"format":"d","labelExpr":"datum.value % 2 === 0 ? datum.label : ''","tickSize":{"condition":{"test":"datum.value % 2 === 0","value":5},"value":3}}},
"y":{"field":"i","type":"quantitative","stack":null,"scale":{"domain":[0,283],"nice":false,"zero":false},"axis":{"title":"Intensity (a.u.)"}}
},
"layer":[
{"data":{"name":"c_comp"},"mark":{"type":"area","interpolate":"monotone","fillOpacity":0.6},
"encoding":{"y2":{"field":"lo"},
"fill":{"field":"c","type":"nominal","scale":{"domain":["h2o","so2","hfo"],"range":["#e63fde","#5050de","#fccfa3"]},"legend":null}}},
{"data":{"name":"c_comp"},"mark":{"type":"line","interpolate":"monotone","strokeWidth":1.5},
"encoding":{"stroke":{"field":"c","type":"nominal","scale":{"domain":["h2o","so2","hfo"],"range":["#f5206f","#1c1cd0","#f7931e"]},"legend":null}}},
{"data":{"name":"c_bg"},"mark":{"type":"line","interpolate":"monotone","color":"black","strokeWidth":2.5}},
{"data":{"name":"c_pts"},"mark":{"type":"point","shape":"circle","filled":false,"color":"#555555","size":42,"strokeWidth":1,"opacity":1}},
{"data":{"name":"c_env"},"mark":{"type":"line","interpolate":"monotone","color":"#ff0000","strokeWidth":2.6}},
{"data":{"name":"c_arr"},"mark":{"type":"rule","strokeWidth":1.5},
"encoding":{"x2":{"field":"e2"},"y2":{"field":"i2"},"stroke":{"field":"c","type":"nominal","legend":null}}},
{"data":{"name":"c_arr"},"mark":{"type":"point","shape":"triangle-up","filled":true,"size":50,"opacity":1},
"encoding":{"angle":{"field":"ang","type":"quantitative","scale":null},
"color":{"field":"c","type":"nominal","scale":{"domain":["h2o","so2","hfo"],"range":["#f5206f","#1c1cd0","#f7931e"]},"legend":null}}},
{"data":{"name":"c_txt"},"mark":{"type":"text","align":"left","baseline":"middle","fontSize":14},
"encoding":{"text":{"field":"t"},"color":{"field":"c","type":"nominal","legend":null}}},
{"data":{"name":"c_sub"},"mark":{"type":"text","align":"left","baseline":"middle","fontSize":9.5,"dy":5},
"encoding":{"text":{"field":"t"},"color":{"field":"c","type":"nominal","legend":null}}},
{"data":{"values":[{"e":539.88,"i":268,"t":"O 1s"}]},"mark":{"type":"text","align":"left","baseline":"middle","fontSize":16,"fontWeight":"bold","color":"black"},
"encoding":{"text":{"field":"t"}}},
{"data":{"values":[{"e":540.86,"i":259,"t":"c"}]},"mark":{"type":"text","align":"center","baseline":"alphabetic","fontSize":31,"fontWeight":"bold","color":"black"},
"encoding":{"text":{"field":"t"}}}
]},
{
"width":350,"height":284,
"encoding":{
"x":{"field":"w","type":"quantitative","scale":{"domain":[100,1300],"nice":false,"zero":false},
"axis":{"title":"Wavenumber (cm⁻¹)","values":[100,200,300,400,500,600,700,800,900,1000,1100,1200,1300],"format":"d","labelExpr":"datum.value % 200 === 100 ? datum.label : ''","tickSize":{"condition":{"test":"datum.value % 200 === 100","value":5},"value":3}}},
"y":{"field":"i","type":"quantitative","scale":{"domain":[0,284],"nice":false,"zero":false},"axis":{"title":"Intensity (a.u.)"}}
},
"layer":[
{"data":{"name":"d_spec"},"transform":[{"fold":["n","r","b"],"as":["s","i"]}],"mark":{"type":"line","strokeWidth":1.1},
"encoding":{"stroke":{"field":"s","type":"nominal","scale":{"domain":["n","r","b"],"range":["#000000","#ff0000","#0000ff"]},"legend":null}}},
{"data":{"name":"d_leg"},"mark":{"type":"rule","strokeWidth":2.5},
"encoding":{"x2":{"field":"w2"},"stroke":{"field":"s","type":"nominal","legend":null}}},
{"data":{"name":"d_legt"},"mark":{"type":"text","align":"left","baseline":"middle","fontSize":14.5,"color":"black"},
"encoding":{"text":{"field":"t"}}},
{"data":{"name":"d_lab"},"mark":{"type":"text","align":"center","baseline":"middle","fontSize":14,"fontWeight":"bold"},
"encoding":{"text":{"field":"t"},"color":{"field":"c","type":"nominal","scale":{"domain":["k","nv"],"range":["#000000","#2a2a86"]},"legend":null}}},
{"data":{"values":[{"w":34.9,"i":260,"t":"d"}]},"mark":{"type":"text","align":"center","baseline":"alphabetic","fontSize":31,"fontWeight":"bold","color":"black"},
"encoding":{"text":{"field":"t"}}}
]}
],
"config":{
"view":{"stroke":"#1a1a1a","strokeWidth":1.5},
"font":"Liberation Sans",
"text":{"font":"Liberation Sans"},
"axis":{"grid":false,"domain":false,"labelFont":"Liberation Sans","labelFontSize":15,"labelColor":"black","titleFont":"Liberation Sans","titleFontSize":17,"titleFontWeight":"bold","titleColor":"black","tickColor":"black","tickWidth":1.2,"labelOverlap":false,"labelFlush":false},
"axisX":{"labelPadding":3,"titlePadding":6},
"axisY":{"ticks":false,"labels":false,"titlePadding":9}
}
}
